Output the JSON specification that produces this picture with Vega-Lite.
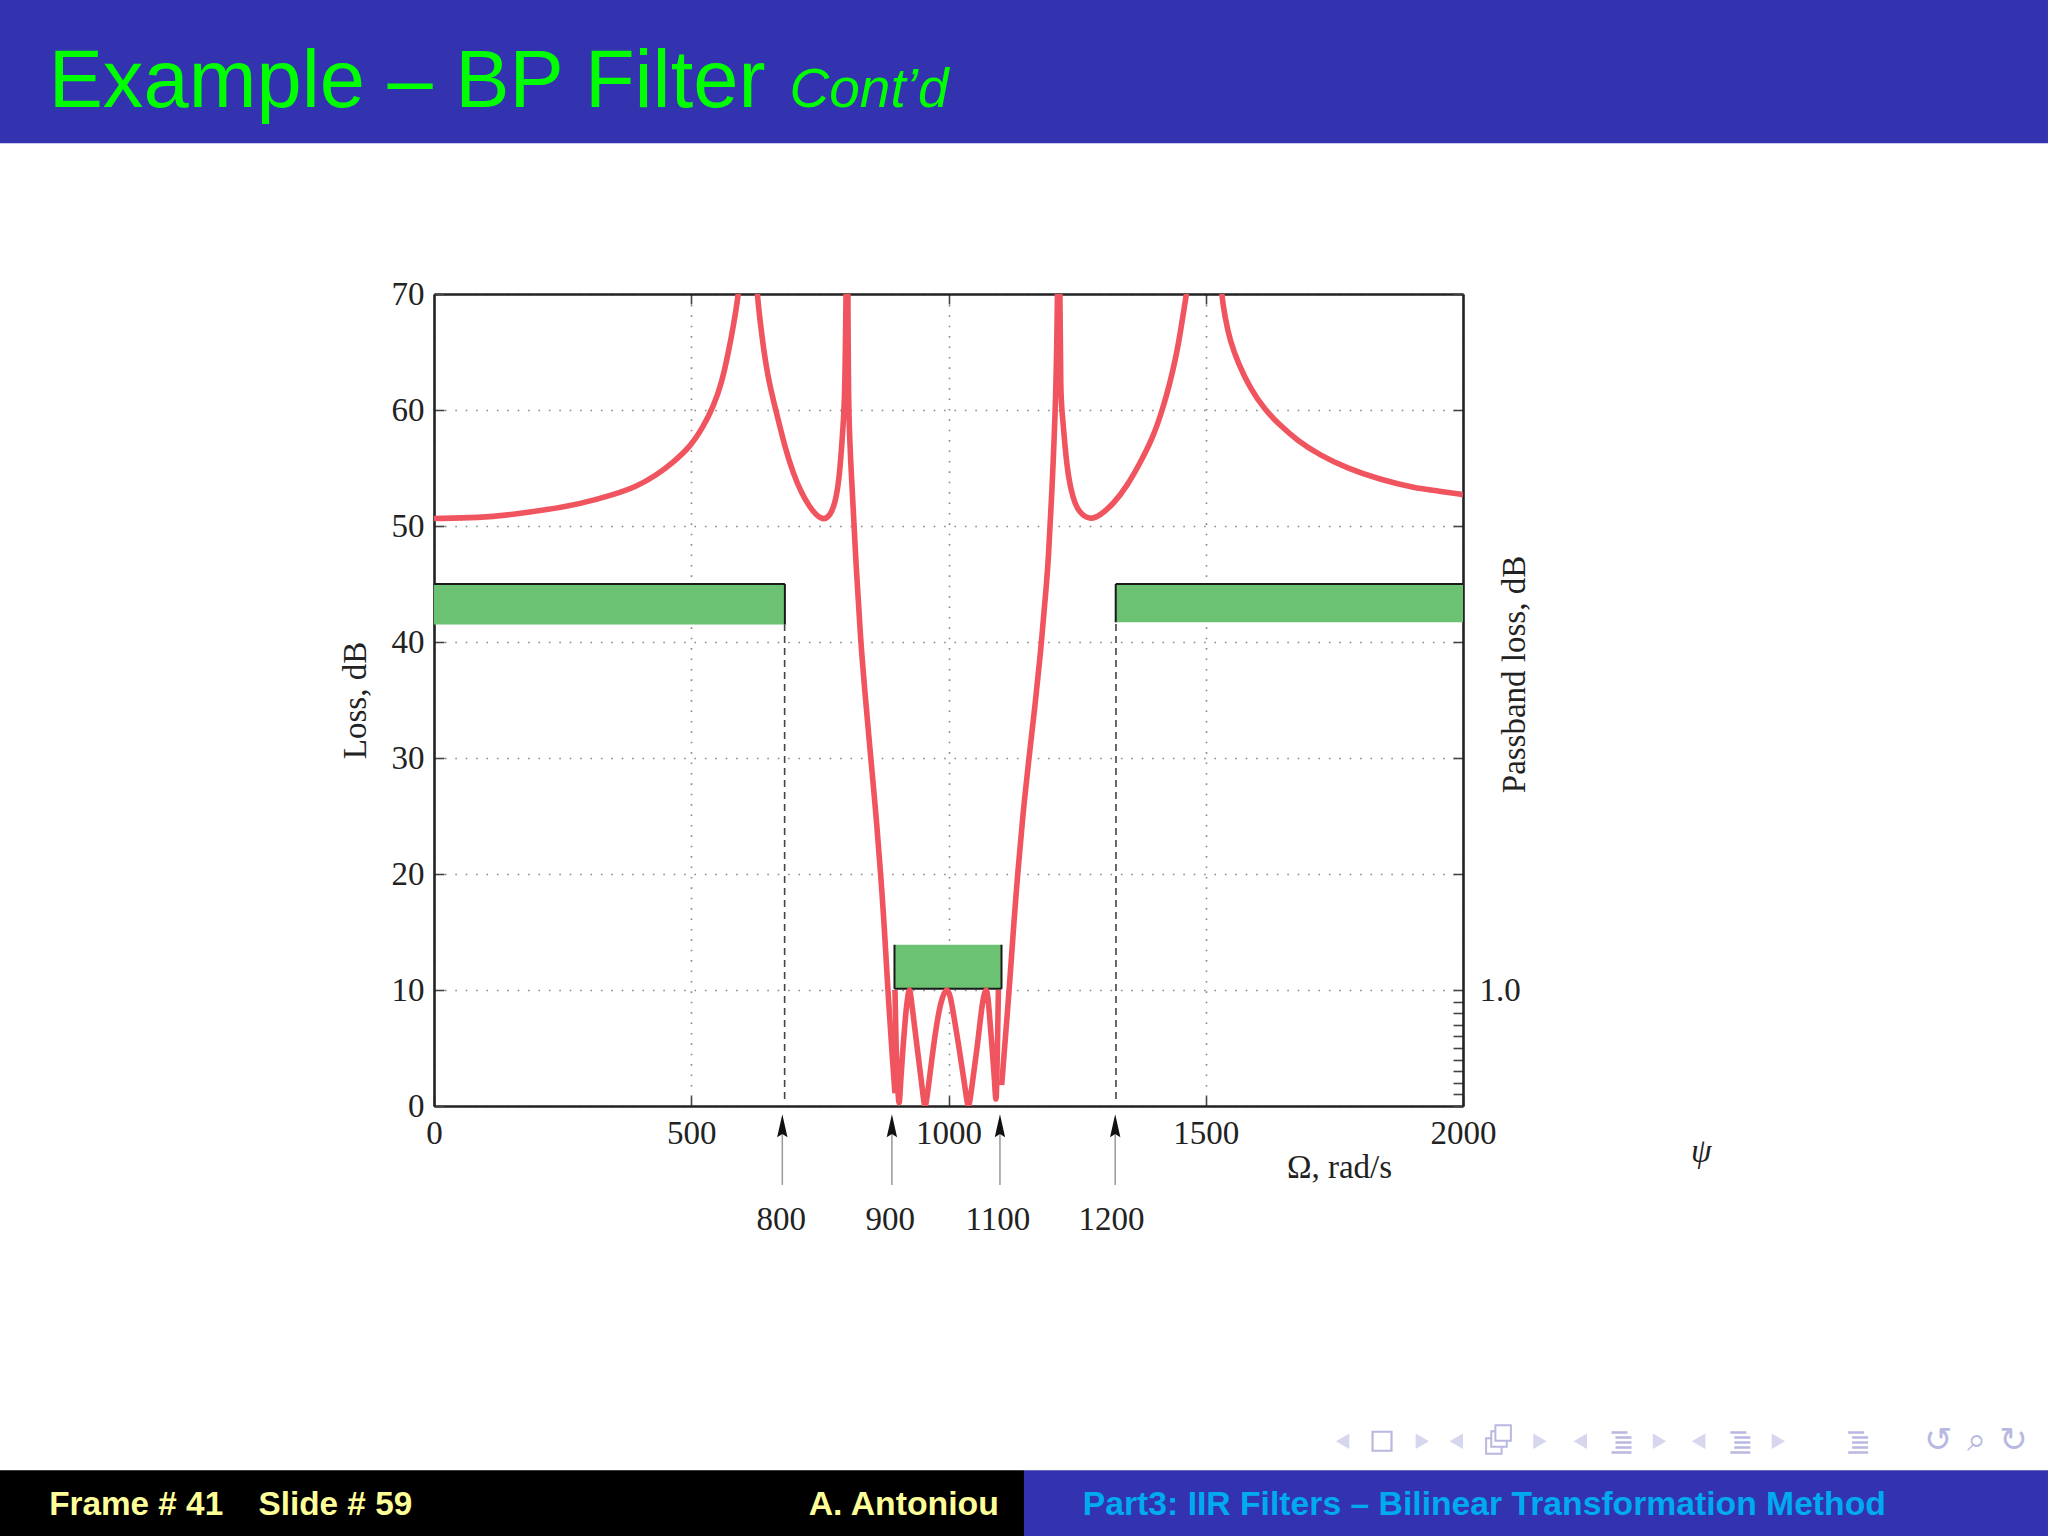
{
"$schema":"https://vega.github.io/schema/vega-lite/v6.json",
"width":1029,"height":812,
"autosize":{"type":"none"},
"padding":{"left":434,"top":294,"right":585,"bottom":430},
"background":"#ffffff",
"config":{"view":{"stroke":null},"axis":{"labelFont":"Liberation Serif","titleFont":"Liberation Serif","labelFontSize":33,"titleFontSize":33,"titleFontWeight":"normal","labelColor":"#222222","titleColor":"#222222","domainColor":"#222222","domainWidth":2.6,"tickColor":"#444444","tickWidth":1.6,"tickSize":-10,"gridColor":"#888888","gridWidth":1.6,"gridDash":[1.6,8.8]}},
"datasets":{
"curve":[
{"branch":"a","omega":0,"loss":50.65},{"branch":"a","omega":89,"loss":50.7},{"branch":"a","omega":154,"loss":51},{"branch":"a","omega":219,"loss":51.4},{"branch":"a","omega":284,"loss":51.9},{"branch":"a","omega":349,"loss":52.7},{"branch":"a","omega":394,"loss":53.4},{"branch":"a","omega":433,"loss":54.4},{"branch":"a","omega":465,"loss":55.5},{"branch":"a","omega":497.6,"loss":56.8},{"branch":"a","omega":524,"loss":58.6},{"branch":"a","omega":543,"loss":60.3},{"branch":"a","omega":559,"loss":62.3},{"branch":"a","omega":572,"loss":64.9},{"branch":"a","omega":583,"loss":67.5},{"branch":"a","omega":591.5,"loss":69.9},{"branch":"a","omega":593,"loss":71},
{"branch":"b","omega":627.5,"loss":71},{"branch":"b","omega":628.4,"loss":69.9},{"branch":"b","omega":633.6,"loss":67.75},{"branch":"b","omega":640,"loss":65.45},{"branch":"b","omega":649.8,"loss":62.6},{"branch":"b","omega":666,"loss":59.7},{"branch":"b","omega":682,"loss":56.8},{"branch":"b","omega":698.4,"loss":54.5},{"branch":"b","omega":714.6,"loss":52.8},{"branch":"b","omega":730.8,"loss":51.6},{"branch":"b","omega":743.7,"loss":50.9},{"branch":"b","omega":758,"loss":50.5},{"branch":"b","omega":769.7,"loss":50.9},{"branch":"b","omega":779.4,"loss":51.9},{"branch":"b","omega":787.2,"loss":53.9},{"branch":"b","omega":792.3,"loss":56.8},{"branch":"b","omega":796.9,"loss":59.7},{"branch":"b","omega":798.8,"loss":62.6},{"branch":"b","omega":800,"loss":66.9},{"branch":"b","omega":801,"loss":70},{"branch":"b","omega":803.5,"loss":82},{"branch":"b","omega":804.5,"loss":70},{"branch":"b","omega":805.5,"loss":59},{"branch":"b","omega":812,"loss":54},{"branch":"b","omega":819.6,"loss":47.1},{"branch":"b","omega":829.3,"loss":40},{"branch":"b","omega":837.7,"loss":35.6},{"branch":"b","omega":848.7,"loss":30.1},{"branch":"b","omega":859,"loss":25.2},{"branch":"b","omega":868.1,"loss":20},{"branch":"b","omega":874.6,"loss":16},{"branch":"b","omega":882,"loss":10},{"branch":"b","omega":892,"loss":3.4},{"branch":"b","omega":896,"loss":1.1},
{"branch":"p","omega":896,"loss":10},{"branch":"p","omega":898,"loss":5},{"branch":"p","omega":902,"loss":0.8},{"branch":"p","omega":904.5,"loss":-0.2},{"branch":"p","omega":907,"loss":2.2},{"branch":"p","omega":911.6,"loss":5.1},{"branch":"p","omega":916.8,"loss":8},{"branch":"p","omega":920.6,"loss":9.4},{"branch":"p","omega":924,"loss":10.3},{"branch":"p","omega":927,"loss":9.4},{"branch":"p","omega":931,"loss":8},{"branch":"p","omega":938.8,"loss":5.1},{"branch":"p","omega":947.2,"loss":2.2},{"branch":"p","omega":951.5,"loss":0.5},{"branch":"p","omega":954.4,"loss":-0.2},{"branch":"p","omega":957.5,"loss":0.5},{"branch":"p","omega":961,"loss":1.7},{"branch":"p","omega":970.5,"loss":5.1},{"branch":"p","omega":980.3,"loss":8},{"branch":"p","omega":988,"loss":9.4},{"branch":"p","omega":997,"loss":10.3},{"branch":"p","omega":1004.2,"loss":9.4},{"branch":"p","omega":1009.4,"loss":8},{"branch":"p","omega":1020.4,"loss":5.1},{"branch":"p","omega":1030.1,"loss":2.2},{"branch":"p","omega":1035.5,"loss":0.5},{"branch":"p","omega":1038.6,"loss":-0.2},{"branch":"p","omega":1042,"loss":0.5},{"branch":"p","omega":1047,"loss":2.2},{"branch":"p","omega":1056,"loss":5.1},{"branch":"p","omega":1063.2,"loss":8},{"branch":"p","omega":1067.7,"loss":9.4},{"branch":"p","omega":1073,"loss":10.3},{"branch":"p","omega":1076.8,"loss":9.4},{"branch":"p","omega":1079.4,"loss":8},{"branch":"p","omega":1084.6,"loss":5.1},{"branch":"p","omega":1089.7,"loss":2.2},{"branch":"p","omega":1092.3,"loss":-0.2},{"branch":"p","omega":1094,"loss":2.2},{"branch":"p","omega":1095.5,"loss":6},{"branch":"p","omega":1097,"loss":10},
{"branch":"c","omega":1103.3,"loss":1.8},{"branch":"c","omega":1119.6,"loss":10.9},{"branch":"c","omega":1127.3,"loss":16},{"branch":"c","omega":1134.5,"loss":20},{"branch":"c","omega":1144,"loss":24.9},{"branch":"c","omega":1156.5,"loss":30.1},{"branch":"c","omega":1168,"loss":34.4},{"branch":"c","omega":1181,"loss":40},{"branch":"c","omega":1191,"loss":45.3},{"branch":"c","omega":1194,"loss":47.1},{"branch":"c","omega":1200.6,"loss":52.5},{"branch":"c","omega":1209,"loss":61.1},{"branch":"c","omega":1212,"loss":70},{"branch":"c","omega":1214.5,"loss":82},{"branch":"c","omega":1216.5,"loss":70},{"branch":"c","omega":1217.9,"loss":61.1},{"branch":"c","omega":1221.2,"loss":59.7},{"branch":"c","omega":1226.4,"loss":56.8},{"branch":"c","omega":1232.9,"loss":54.2},{"branch":"c","omega":1241.3,"loss":52.5},{"branch":"c","omega":1252.3,"loss":51.2},{"branch":"c","omega":1275,"loss":50.5},{"branch":"c","omega":1294.4,"loss":50.9},{"branch":"c","omega":1320.4,"loss":51.9},{"branch":"c","omega":1346.3,"loss":53.4},{"branch":"c","omega":1372.2,"loss":55.4},{"branch":"c","omega":1398.1,"loss":57.7},{"branch":"c","omega":1415.6,"loss":60},{"branch":"c","omega":1430.5,"loss":62.3},{"branch":"c","omega":1443.5,"loss":64.9},{"branch":"c","omega":1450,"loss":66.5},{"branch":"c","omega":1466,"loss":71},
{"branch":"d","omega":1530,"loss":71},{"branch":"d","omega":1531,"loss":69.9},{"branch":"d","omega":1537.5,"loss":68},{"branch":"d","omega":1547,"loss":66},{"branch":"d","omega":1563.4,"loss":64},{"branch":"d","omega":1586,"loss":61.9},{"branch":"d","omega":1615,"loss":60},{"branch":"d","omega":1644,"loss":58.7},{"branch":"d","omega":1677,"loss":57.4},{"branch":"d","omega":1722,"loss":56.1},{"branch":"d","omega":1774,"loss":55},{"branch":"d","omega":1839,"loss":54},{"branch":"d","omega":1903.5,"loss":53.3},{"branch":"d","omega":1955,"loss":53},{"branch":"d","omega":2000,"loss":52.7}
],
"zones":[{"zone":"lower stopband","x0":0,"x1":682,"y0":41.5,"y1":45},{"zone":"upper stopband","x0":1325,"x1":2000,"y0":41.7,"y1":45},{"zone":"passband","x0":895,"x1":1103,"y0":10.1,"y1":13.9}],
"edges":[{"x0":0,"x1":682,"y0":45,"y1":45},{"x0":682,"x1":682,"y0":41.5,"y1":45},{"x0":1325,"x1":2000,"y0":45,"y1":45},{"x0":1325,"x1":1325,"y0":41.7,"y1":45},{"x0":895,"x1":895,"y0":10.1,"y1":13.9},{"x0":1103,"x1":1103,"y0":10.1,"y1":13.9},{"x0":895,"x1":1103,"y0":10.1,"y1":10.1}],
"dashes":[{"x":681.5,"y0":0.6,"y1":41.5},{"x":1325.5,"y0":0.6,"y1":41.7}],
"arrows":[{"label":"800","x":677,"lx":675,"shaft0":-6.8,"shaft1":-2,"head":-1.7,"ly":-10.7},{"label":"900","x":890,"lx":887,"shaft0":-6.8,"shaft1":-2,"head":-1.7,"ly":-10.7},{"label":"1100","x":1100,"lx":1096,"shaft0":-6.8,"shaft1":-2,"head":-1.7,"ly":-10.7},{"label":"1200","x":1324,"lx":1317,"shaft0":-6.8,"shaft1":-2,"head":-1.7,"ly":-10.7}],
"bands":[{"x0":-843.6,"x1":3137,"y0":83,"y1":95.4}],
"footL":[{"x0":-843.6,"x1":1146.7,"y0":-37.07,"y1":-31.4}],
"footR":[{"x0":1146.7,"x1":3137,"y0":-37.07,"y1":-31.4}],
"navT":[{"x":1766,"y":-28.9,"s":"triangle-left"},{"x":1921,"y":-28.9,"s":"triangle-right"},{"x":1987,"y":-28.9,"s":"triangle-left"},{"x":2149.6,"y":-28.9,"s":"triangle-right"},{"x":2228,"y":-28.9,"s":"triangle-left"},{"x":2382,"y":-28.9,"s":"triangle-right"},{"x":2458,"y":-28.9,"s":"triangle-left"},{"x":2613,"y":-28.9,"s":"triangle-right"}],
"navB":[{"x":1842.6,"y":-28.9}],
"navF":[{"x":2078,"y":-28.2},{"x":2070,"y":-28.7},{"x":2060,"y":-29.3}],
"navL":[{"x":2308,"y":-28.9},{"x":2539,"y":-28.9},{"x":2768,"y":-28.9}],
"navG":[{"x":2924,"y":-28.9,"t":"↺"},{"x":2998,"y":-28.9,"t":"⌕"},{"x":3070,"y":-28.9,"t":"↻"}]
},
"layer":[
{"data":{"name":"bands"},"mark":{"type":"rect","fill":"#3333AF","clip":false},
 "encoding":{
  "x":{"field":"x0","type":"quantitative","scale":{"domain":[0,2000],"nice":false,"zero":false},
   "axis":{"orient":"bottom","values":[0,500,1000,1500,2000],"format":"d","title":"Ω, rad/s","titleX":905,"titleY":45,"labelFlush":false,"grid":true,"labelPadding":21}},
  "x2":{"field":"x1"},
  "y":{"field":"y0","type":"quantitative","scale":{"domain":[0,70],"nice":false,"zero":false},
   "axis":{"orient":"left","values":[0,10,20,30,40,50,60,70],"title":"Loss, dB","grid":true,"labelPadding":20,"titleX":-62,"titleY":406}},
  "y2":{"field":"y1"}}},
{"data":{"name":"footL"},"mark":{"type":"rect","fill":"#000000","clip":false},
 "encoding":{"x":{"field":"x0","type":"quantitative","axis":{"orient":"top","values":[500,1000,1500],"labels":false,"title":null,"grid":false,"domain":true}},"x2":{"field":"x1"},
 "y":{"field":"y0","type":"quantitative","axis":{"orient":"right","values":[0,1,2,3,4,5,6,7,8,9,10,20,30,40,50,60,70],"labelExpr":"datum.value==10?'1.0':''","title":"Passband loss, dB","titleAngle":270,"titleX":68,"titleY":380,"grid":false,"labelPadding":26}},"y2":{"field":"y1"}}},
{"data":{"name":"footR"},"mark":{"type":"rect","fill":"#3333AF","clip":false},
 "encoding":{"x":{"field":"x0","type":"quantitative","axis":null},"x2":{"field":"x1"},"y":{"field":"y0","type":"quantitative","axis":null},"y2":{"field":"y1"}}},
{"data":{"name":"zones"},"mark":{"type":"rect","fill":"#6BC272"},
 "encoding":{"x":{"field":"x0","type":"quantitative","axis":null},"x2":{"field":"x1"},"y":{"field":"y0","type":"quantitative","axis":null},"y2":{"field":"y1"}}},
{"data":{"name":"edges"},"mark":{"type":"rule","stroke":"#1a1a1a","strokeWidth":2},
 "encoding":{"x":{"field":"x0","type":"quantitative","axis":null},"x2":{"field":"x1"},"y":{"field":"y0","type":"quantitative","axis":null},"y2":{"field":"y1"}}},
{"data":{"name":"dashes"},"mark":{"type":"rule","stroke":"#444444","strokeWidth":1.6,"strokeDash":[7,5]},
 "encoding":{"x":{"field":"x","type":"quantitative","axis":null},"y":{"field":"y0","type":"quantitative","axis":null},"y2":{"field":"y1"}}},
{"data":{"name":"curve"},"mark":{"type":"line","stroke":"#F0555F","strokeWidth":5.6,"interpolate":"basis","clip":true},
 "encoding":{"x":{"field":"omega","type":"quantitative","axis":null},"y":{"field":"loss","type":"quantitative","axis":null},"detail":{"field":"branch"}}},
{"data":{"name":"arrows"},"mark":{"type":"rule","stroke":"#999999","strokeWidth":1.5,"clip":false},
 "encoding":{"x":{"field":"x","type":"quantitative","axis":null},"y":{"field":"shaft0","type":"quantitative","axis":null},"y2":{"field":"shaft1"}}},
{"data":{"name":"arrows"},"mark":{"type":"point","shape":"M0,-1 L0.45,1 L0,0.72 L-0.45,1 Z","size":529,"filled":true,"fill":"#111111","stroke":null,"opacity":1,"clip":false},
 "encoding":{"x":{"field":"x","type":"quantitative","axis":null},"y":{"field":"head","type":"quantitative","axis":null}}},
{"data":{"name":"arrows"},"mark":{"type":"text","font":"Liberation Serif","fontSize":33,"fill":"#222222","align":"center","baseline":"alphabetic","clip":false},
 "encoding":{"x":{"field":"lx","type":"quantitative","axis":null},"y":{"field":"ly","type":"quantitative","axis":null},"text":{"field":"label"}}},
{"data":{"values":[{"t":"Example – BP Filter","x":-749,"y":86.1}]},"mark":{"type":"text","font":"Liberation Sans","fontSize":81.3,"fill":"#00FF00","align":"left","baseline":"alphabetic","clip":false},
 "encoding":{"x":{"field":"x","type":"quantitative","axis":null},"y":{"field":"y","type":"quantitative","axis":null},"text":{"field":"t"}}},
{"data":{"values":[{"t":"Cont’d","x":691,"y":86.1}]},"mark":{"type":"text","font":"Liberation Sans","fontStyle":"italic","fontSize":55,"fill":"#00FF00","align":"left","baseline":"alphabetic","clip":false},
 "encoding":{"x":{"field":"x","type":"quantitative","axis":null},"y":{"field":"y","type":"quantitative","axis":null},"text":{"field":"t"}}},
{"data":{"values":[{"t":"ψ","x":2463,"y":-4}]},"mark":{"type":"text","font":"Liberation Serif","fontStyle":"italic","fontSize":33,"fill":"#222222","align":"center","baseline":"middle","clip":false},
 "encoding":{"x":{"field":"x","type":"quantitative","axis":null},"y":{"field":"y","type":"quantitative","axis":null},"text":{"field":"t"}}},
{"data":{"values":[{"t":"Frame # 41","x":-748,"y":-35.3},{"t":"Slide # 59","x":-341,"y":-35.3}]},"mark":{"type":"text","font":"Liberation Sans","fontWeight":"bold","fontSize":33.3,"fill":"#FFFF99","align":"left","baseline":"alphabetic","clip":false},
 "encoding":{"x":{"field":"x","type":"quantitative","axis":null},"y":{"field":"y","type":"quantitative","axis":null},"text":{"field":"t"}}},
{"data":{"values":[{"t":"A. Antoniou","x":1098,"y":-35.3}]},"mark":{"type":"text","font":"Liberation Sans","fontWeight":"bold","fontSize":33.8,"fill":"#FFFF99","align":"right","baseline":"alphabetic","clip":false},
 "encoding":{"x":{"field":"x","type":"quantitative","axis":null},"y":{"field":"y","type":"quantitative","axis":null},"text":{"field":"t"}}},
{"data":{"values":[{"t":"Part3: IIR Filters – Bilinear Transformation Method","x":1261,"y":-35.3}]},"mark":{"type":"text","font":"Liberation Sans","fontWeight":"bold","fontSize":33.7,"fill":"#00AAF0","align":"left","baseline":"alphabetic","clip":false},
 "encoding":{"x":{"field":"x","type":"quantitative","axis":null},"y":{"field":"y","type":"quantitative","axis":null},"text":{"field":"t"}}},
{"data":{"name":"navT"},"mark":{"type":"point","filled":true,"fill":"#D6D6EE","stroke":null,"opacity":1,"size":240,"clip":false},
 "encoding":{"x":{"field":"x","type":"quantitative","axis":null},"y":{"field":"y","type":"quantitative","axis":null},"shape":{"field":"s","type":"nominal","scale":null,"legend":null}}},
{"data":{"name":"navB"},"mark":{"type":"point","shape":"square","filled":false,"stroke":"#B8B8E0","strokeWidth":2.2,"opacity":1,"fill":"#ffffff","size":360,"clip":false},
 "encoding":{"x":{"field":"x","type":"quantitative","axis":null},"y":{"field":"y","type":"quantitative","axis":null}}},
{"data":{"name":"navF"},"mark":{"type":"point","shape":"square","filled":false,"stroke":"#B8B8E0","strokeWidth":2,"opacity":1,"fill":"#ffffff","size":240,"clip":false},
 "encoding":{"x":{"field":"x","type":"quantitative","axis":null},"y":{"field":"y","type":"quantitative","axis":null},"order":{"field":"y"}}},
{"data":{"name":"navL"},"mark":{"type":"point","shape":"M-1,-1 H0.6 V-0.75 H-1 Z M-0.6,-0.5 H1 V-0.25 H-0.6 Z M-0.6,0 H1 V0.25 H-0.6 Z M-0.6,0.5 H1 V0.75 H-0.6 Z M-1,1 H1 V1.25 H-1 Z","filled":true,"fill":"#B8B8E0","stroke":null,"opacity":1,"size":400,"clip":false},
 "encoding":{"x":{"field":"x","type":"quantitative","axis":null},"y":{"field":"y","type":"quantitative","axis":null}}},
{"data":{"name":"navG"},"mark":{"type":"text","font":"DejaVu Sans","fontSize":34,"fill":"#B8B8E0","align":"center","baseline":"middle","clip":false},
 "encoding":{"x":{"field":"x","type":"quantitative","axis":null},"y":{"field":"y","type":"quantitative","axis":null},"text":{"field":"t"}}}
],
"resolve":{"axis":{"x":"independent","y":"independent"}}
}
